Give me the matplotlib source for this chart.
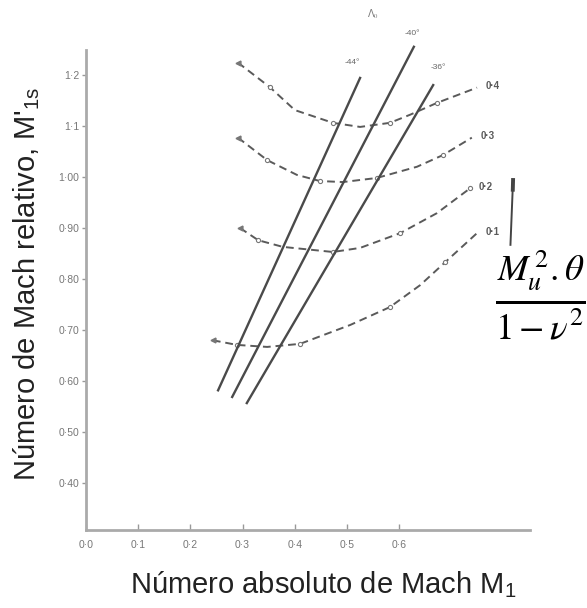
import matplotlib
matplotlib.use('Agg')
import matplotlib.pyplot as plt

plt.rcParams['font.family'] = ['Liberation Sans', 'DejaVu Sans']
plt.rcParams['mathtext.fontset'] = 'stix'

# dashed curves, one per value of M_u^2.theta/(1-nu^2)
c_labels = ['0·4', '0·3', '0·2', '0·1']
c04_x = [0.291, 0.352, 0.400, 0.473, 0.525, 0.582, 0.621, 0.672, 0.749]
c04_y = [1.224, 1.176, 1.131, 1.106, 1.098, 1.106, 1.122, 1.145, 1.175]
c03_x = [0.291, 0.347, 0.404, 0.448, 0.492, 0.557, 0.634, 0.684, 0.739]
c03_y = [1.077, 1.033, 1.004, 0.992, 0.990, 0.998, 1.020, 1.043, 1.077]
c02_x = [0.295, 0.330, 0.377, 0.473, 0.525, 0.602, 0.672, 0.736]
c02_y = [0.900, 0.876, 0.863, 0.853, 0.861, 0.890, 0.929, 0.978]
c01_x = [0.243, 0.289, 0.347, 0.410, 0.506, 0.582, 0.640, 0.688, 0.749]
c01_y = [0.680, 0.671, 0.667, 0.673, 0.710, 0.745, 0.788, 0.833, 0.890]

# straight lines, one per angle
l_labels = ['-44°', '-40°', '-36°']
l44_x = [0.253, 0.525]
l44_y = [0.582, 1.194]
l40_x = [0.280, 0.628]
l40_y = [0.569, 1.255]
l36_x = [0.308, 0.665]
l36_y = [0.557, 1.180]

x_ticks = [0.0, 0.1, 0.2, 0.3, 0.4, 0.5, 0.6]
x_ticklabels = ['0·0', '0·1', '0·2', '0·3', '0·4', '0·5', '0·6']
y_ticks = [0.4, 0.5, 0.6, 0.7, 0.8, 0.9, 1.0, 1.1, 1.2]
y_ticklabels = ['0·40', '0·50', '0·60', '0·70', '0·80', '0·90', '1·00', '1·1', '1·2']

fig = plt.figure(figsize=(5.87, 6.08), dpi=100)
ax = fig.add_axes([0.1465, 0.128, 0.756, 0.79])

curves = [(c04_x, c04_y), (c03_x, c03_y), (c02_x, c02_y), (c01_x, c01_y)]
for (cx, cy), lab in zip(curves, c_labels):
    ax.plot(cx, cy, color='#5a5a5a', lw=1.4, ls=(0, (4, 2.5)),
            marker='o', ms=3, mfc='white', mec='#777777', mew=0.8,
            markevery=[1, 3, 5, 7])
    # small arrow-like tick at the left end of each curve
    ax.plot(cx[0], cy[0], marker='<', ms=3.5, color='#777777')
    ax.text(cx[-1] + 0.016, cy[-1] + 0.003, lab, fontsize=7, color='#5a5a5a',
            fontweight='bold', ha='left', va='center', clip_on=False)

lines = [(l44_x, l44_y), (l40_x, l40_y), (l36_x, l36_y)]
for lx, ly in lines:
    ax.plot(lx, ly, color='#4a4a4a', lw=1.7, clip_on=False)

ax.text(0.511, 1.225, l_labels[0], fontsize=6, color='#666666', ha='center', va='center')
ax.text(0.626, 1.282, l_labels[1], fontsize=6, color='#666666', ha='center', va='center', clip_on=False)
ax.text(0.674, 1.214, l_labels[2], fontsize=6, color='#666666', ha='center', va='center')
ax.text(0.550, 1.318, 'Λ$_0$', fontsize=7, color='#777777', ha='center', va='center', clip_on=False)

# bracket next to the curve labels
ax.plot([0.818, 0.813], [0.994, 0.867], color='#444444', lw=1.4, clip_on=False)
ax.plot([0.818, 0.8175], [0.994, 0.975], color='#444444', lw=2.8, clip_on=False)

ax.set_xlim(0, 0.85)
ax.set_ylim(0.308, 1.249)
ax.set_xticks(x_ticks)
ax.set_xticklabels(x_ticklabels)
ax.set_yticks(y_ticks)
ax.set_yticklabels(y_ticklabels)
ax.tick_params(axis='x', direction='in', length=4, width=1, colors='#999999',
               labelsize=7.5, labelcolor='#777777', pad=7)
ax.tick_params(axis='y', direction='out', length=3, width=1, colors='#999999',
               labelsize=7.5, labelcolor='#777777', pad=2)
for s in ['top', 'right']:
    ax.spines[s].set_visible(False)
for s in ['left', 'bottom']:
    ax.spines[s].set_color('#aaaaaa')
    ax.spines[s].set_linewidth(2)

fig.text(0.551, 0.039, 'Número absoluto de Mach $\\mathregular{M_1}$', fontsize=21,
         color='#222222', ha='center', va='center')
fig.text(0.046, 0.533, "Número de Mach relativo, M'$\\mathregular{_{1s}}$", fontsize=21,
         color='#222222', ha='center', va='center', rotation=90)

fig.text(0.92, 0.515, r'$\frac{M_u^{\,2}.\theta}{1-\nu^2}$', fontsize=38,
         color='black', ha='center', va='center')

fig.savefig('out.png', dpi=100)
